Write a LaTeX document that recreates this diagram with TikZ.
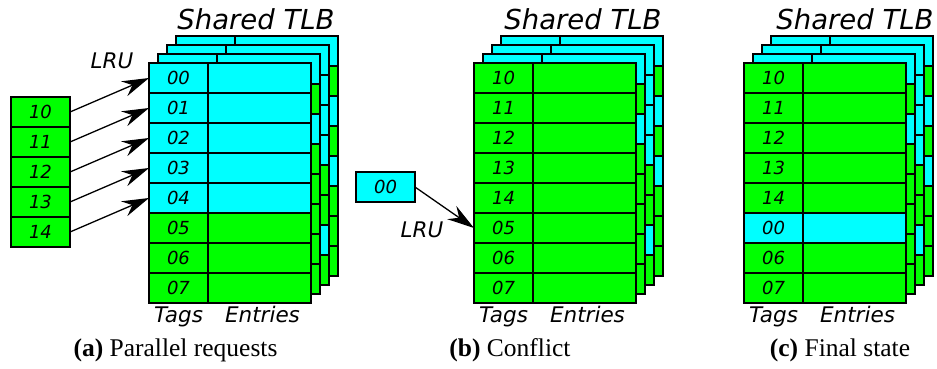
\documentclass[tikz,border=0pt]{standalone}
\usepackage{fontspec}
\setmainfont{Liberation Serif}
\newfontfamily\tlbfont{DejaVu Sans}
\usepackage{xcolor}
\usetikzlibrary{arrows.meta,positioning}
\definecolor{tlbc}{RGB}{0,255,255}
\definecolor{tlbg}{RGB}{0,255,0}

\begin{document}
\begin{tikzpicture}[x=1pt,y=-1pt,
  cell/.style={draw,line width=1.3pt,minimum height=30pt,inner sep=0pt,outer sep=0pt,
    font=\tlbfont\itshape\fontsize{18}{18}\selectfont},
  tagcell/.style={cell,minimum width=59pt},
  entrycell/.style={cell,minimum width=103pt},
  layer/.style={draw,line width=1.3pt},
  lbl/.style={font=\tlbfont\itshape\fontsize{21.5}{21.5}\selectfont,inner sep=0pt},
  tlbtitle/.style={font=\tlbfont\itshape\fontsize{27.5}{27.5}\selectfont,inner sep=0pt,anchor=base},
  capt/.style={font=\fontsize{25.5}{25.5}\selectfont,inner sep=0pt,anchor=base},
  req/.style={-{Stealth[length=27pt,width=16pt,inset=9pt]},line width=1.3pt}]
\useasboundingbox (0,0) rectangle (937,368);
% back layers of the three TLBs, farthest first
\foreach \px in {149,474,744} {
  \begin{scope}[shift={(\px+27,36)}]
    \foreach \col [count=\row from 0] in {c,g,c,g,c,g,g,g} {
      \filldraw[layer,fill=tlb\col] (0,30*\row) rectangle +(59,30);
      \filldraw[layer,fill=tlb\col] (59,30*\row) rectangle +(103,30);
    }
  \end{scope}
  \begin{scope}[shift={(\px+18,45)}]
    \foreach \col [count=\row from 0] in {c,c,c,c,g,g,c,g} {
      \filldraw[layer,fill=tlb\col] (0,30*\row) rectangle +(59,30);
      \filldraw[layer,fill=tlb\col] (59,30*\row) rectangle +(103,30);
    }
  \end{scope}
  \begin{scope}[shift={(\px+9,54)}]
    \foreach \col [count=\row from 0] in {c,g,c,g,g,g,g,g} {
      \filldraw[layer,fill=tlb\col] (0,30*\row) rectangle +(59,30);
      \filldraw[layer,fill=tlb\col] (59,30*\row) rectangle +(103,30);
    }
  \end{scope}
}
% (a) parallel requests
\foreach \tg/\col [count=\row from 0] in {00/c,01/c,02/c,03/c,04/c,05/g,06/g,07/g} {
  \node[tagcell,fill=tlb\col,anchor=north west] (a-t\row) at (149,63+30*\row) {\tg};
  \node[entrycell,fill=tlb\col,right=0pt of a-t\row] (a-e\row) {};
}
\foreach \tg [count=\row from 0] in {10,11,12,13,14}
  \node[tagcell,fill=tlbg,anchor=north west] (a-q\row) at (11,97+30*\row) {\tg};
\foreach \row in {0,...,4}
  \draw[req] (a-q\row.east) -- (a-t\row.west);
\node[lbl] (a-lru) at (112,61) {LRU};
\node[tlbtitle] (a-title) at (256,29) {Shared TLB};
\node[lbl,anchor=base] (a-tags) at ([yshift=-19pt]a-t7.south) {Tags};
\node[lbl,anchor=base] (a-entries) at ([xshift=3pt,yshift=-19pt]a-e7.south) {Entries};
\node[capt] (a-cap) at (175.5,356) {\textbf{(a)} Parallel requests};
% (b) conflict
\foreach \tg/\col [count=\row from 0] in {10/g,11/g,12/g,13/g,14/g,05/g,06/g,07/g} {
  \node[tagcell,fill=tlb\col,anchor=north west] (b-t\row) at (474,63+30*\row) {\tg};
  \node[entrycell,fill=tlb\col,right=0pt of b-t\row] (b-e\row) {};
}
\node[tagcell,fill=tlbc,anchor=north west] (b-q) at (356,172) {00};
\draw[req] (b-q.east) -- (b-t5.west);
\node[lbl] (b-lru) at (422,230) {LRU};
\node[tlbtitle] (b-title) at (583,29) {Shared TLB};
\node[lbl,anchor=base] (b-tags) at ([yshift=-19pt]b-t7.south) {Tags};
\node[lbl,anchor=base] (b-entries) at ([xshift=3pt,yshift=-19pt]b-e7.south) {Entries};
\node[capt] (b-cap) at (510,356) {\textbf{(b)} Conflict};
% (c) final state
\foreach \tg/\col [count=\row from 0] in {10/g,11/g,12/g,13/g,14/g,00/c,06/g,07/g} {
  \node[tagcell,fill=tlb\col,anchor=north west] (c-t\row) at (744,63+30*\row) {\tg};
  \node[entrycell,fill=tlb\col,right=0pt of c-t\row] (c-e\row) {};
}
\node[tlbtitle] (c-title) at (855,29) {Shared TLB};
\node[lbl,anchor=base] (c-tags) at ([yshift=-19pt]c-t7.south) {Tags};
\node[lbl,anchor=base] (c-entries) at ([xshift=3pt,yshift=-19pt]c-e7.south) {Entries};
\node[capt] (c-cap) at (840,356) {\textbf{(c)} Final state};
\end{tikzpicture}
\end{document}
